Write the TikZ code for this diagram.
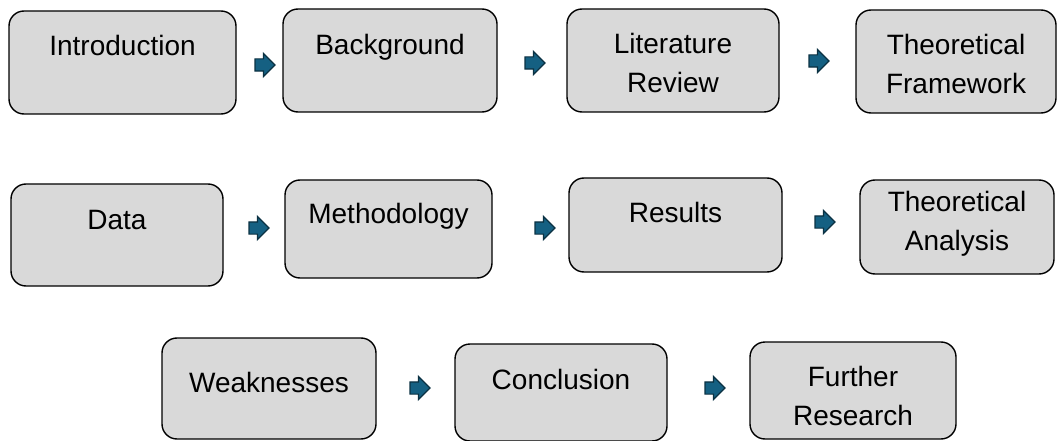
\documentclass[tikz,border=0pt]{standalone}
\usepackage{fontspec}
\setmainfont{Liberation Sans}
\usepackage{tikz}
\usetikzlibrary{shapes.arrows}

\definecolor{boxgray}{HTML}{D9D9D9}
\definecolor{arrowblue}{HTML}{156082}
\definecolor{arrowdark}{HTML}{0B3142}

\begin{document}
\begin{tikzpicture}[x=1pt,y=-1pt,
    stage/.style={draw=black,line width=1.4pt,fill=boxgray,rounded corners=15pt,inner sep=0pt},
    label text/.style={align=center,text=black,font=\fontsize{28}{39}\selectfont},
    flow/.style={single arrow,fill=arrowblue,draw=arrowdark,line width=1.2pt,inner sep=5.5pt,
                 minimum height=20pt,single arrow head extend=5.5pt,
                 single arrow head indent=0pt}]
    \useasboundingbox (0,0) rectangle (1058,441);

    % first row
    \node[stage,minimum width=227pt,minimum height=103pt] (intro) at (122.5,62.5) {};
    \node[stage,minimum width=214pt,minimum height=103pt] (backg) at (390,60.5) {};
    \node[stage,minimum width=212pt,minimum height=103pt] (litrev) at (673,60.5) {};
    \node[stage,minimum width=200pt,minimum height=103pt] (theofw) at (956,61.5) {};

    \node[label text] (intro-t) at (122.5,45) {Introduction};
    \node[label text] (backg-t) at (390,47) {Background};
    \node[label text] (litrev-t) at (673,62.5) {Literature\\Review};
    \node[label text] (theofw-t) at (956,63.5) {Theoretical\\Framework};

    % second row
    \node[stage,minimum width=212pt,minimum height=102pt] (data) at (117,235) {};
    \node[stage,minimum width=207pt,minimum height=98pt] (method) at (388.5,229) {};
    \node[stage,minimum width=213pt,minimum height=94pt] (results) at (675.5,225) {};
    \node[stage,minimum width=194pt,minimum height=94pt] (theoan) at (957,227) {};

    \node[label text] (data-t) at (117,220) {Data};
    \node[label text] (method-t) at (388.5,216) {Methodology};
    \node[label text] (results-t) at (675.5,212) {Results};
    \node[label text] (theoan-t) at (957,224) {Theoretical\\Analysis};

    % third row
    \node[stage,minimum width=214pt,minimum height=101pt] (weak) at (269,388.5) {};
    \node[stage,minimum width=212pt,minimum height=97pt] (concl) at (561,392.5) {};
    \node[stage,minimum width=206pt,minimum height=97pt] (further) at (853,390.5) {};

    \node[label text] (weak-t) at (269,382) {Weaknesses};
    \node[label text] (concl-t) at (561,379) {Conclusion};
    \node[label text] (further-t) at (853,395.5) {Further\\Research};

    % small arrows between the stages
    \node[flow] (a1) at (262,65) {};
    \node[flow] (a2) at (532,63) {};
    \node[flow] (a3) at (816,61) {};
    \node[flow] (a4) at (256,228) {};
    \node[flow] (a5) at (542,228) {};
    \node[flow] (a6) at (822,222) {};
    \node[flow] (a7) at (417,388) {};
    \node[flow] (a8) at (712,388) {};
\end{tikzpicture}
\end{document}
